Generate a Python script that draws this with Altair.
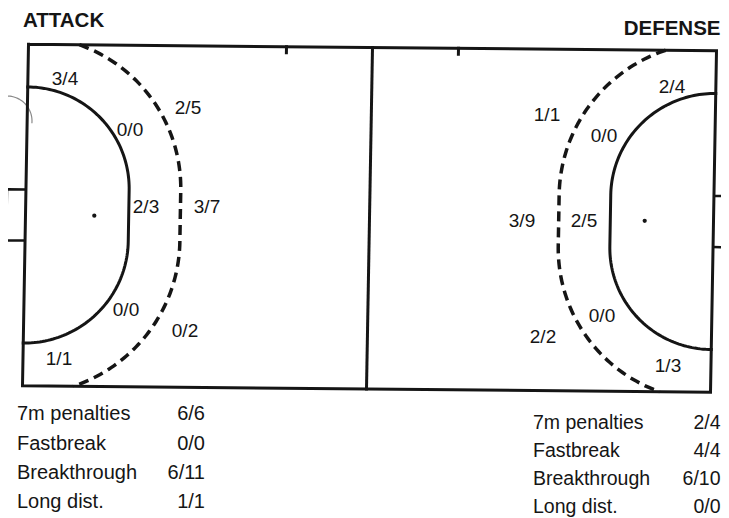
import altair as alt
import numpy as np
import pandas as pd

# ---------------- data (read from the scanned sheet) ----------------
panel_titles = ["ATTACK", "DEFENSE"]

# goals / attempts per shooting zone
attack_zone_labels = ["3/4", "0/0", "2/5", "2/3", "3/7", "0/0", "0/2", "1/1"]
defense_zone_labels = ["2/4", "0/0", "1/1", "2/5", "3/9", "0/0", "2/2", "1/3"]

stat_categories = ["7m penalties", "Fastbreak", "Breakthrough", "Long dist."]
attack_stats = ["6/6", "0/0", "6/11", "1/1"]
defense_stats = ["2/4", "4/4", "6/10", "0/0"]

# ---------------- positions on the sheet (px) ----------------
attack_zone_x = [65, 130, 188, 146, 207, 126, 185, 59]
attack_zone_y = [85, 136, 114, 213, 213, 316, 337, 365]
defense_zone_x = [672, 604, 547, 584, 522, 602, 543, 668]
defense_zone_y = [93, 142, 121, 227, 227, 322, 343, 372]

title_x = [23, 720.5]
title_y = [27, 35]

attack_stat_label_x, attack_stat_value_x = 17, 205
attack_stat_y = [419.5, 449.5, 479, 508]
defense_stat_label_x, defense_stat_value_x = 533, 720.5
defense_stat_y = [429, 457, 485, 513]


# court (metres, 40 x 20) -> scanned sheet (px), slight skew of the scan
def to_sheet(xm, ym):
    xm = np.asarray(xm, dtype=float)
    ym = np.asarray(ym, dtype=float)
    return 28.5 + 17.2 * xm - 0.3 * ym, 44.25 + 0.1625 * xm + 17.075 * ym


rows = []


def add_path(name, kind, xs, ys):
    sx, sy = to_sheet(xs, ys)
    for i, (a, b) in enumerate(zip(sx, sy)):
        rows.append({"x": a, "y": b, "path": name, "kind": kind, "i": i})


def goal_area(r, mirror):
    a0 = -np.degrees(np.arcsin(min(1.0, 8.5 / r)))
    t1 = np.radians(np.linspace(a0, 0, 60))
    t2 = np.radians(np.linspace(0, -a0, 60))
    xs = np.concatenate([r * np.cos(t1), [r, r], r * np.cos(t2)])
    ys = np.concatenate([8.5 + r * np.sin(t1), [8.5, 11.5], 11.5 + r * np.sin(t2)])
    if mirror:
        xs = 40 - xs
    return xs, ys


add_path("outline", "solid", [0, 40, 40, 0, 0], [0, 0, 20, 20, 0])
add_path("center", "solid", [20, 20], [0, 20])
add_path("sub_l", "solid", [15, 15], [0, 0.35])
add_path("sub_r", "solid", [25, 25], [0, 0.35])
for side, mirror in (("l", False), ("r", True)):
    xs, ys = goal_area(6, mirror)
    add_path("six_" + side, "solid", xs, ys)
    xs, ys = goal_area(9, mirror)
    add_path("nine_" + side, "dashed", xs, ys)
add_path("goal_l", "goal", [0, -1.1, -1.1, 0], [8.5, 8.5, 11.5, 11.5])
add_path("goal_r", "goal", [40, 41.2, 41.2, 40], [8.5, 8.5, 11.5, 11.5])

lines = pd.DataFrame(rows)

gx, gy = to_sheet([4, 36], [10, 10])
marks = pd.DataFrame({"x": gx, "y": gy})

# scan artefact (punched hole edge)
ang = np.radians(np.linspace(-175, 5, 50))
hole = pd.DataFrame({"x": 7 + 25 * np.cos(ang), "y": 121 + 25 * np.sin(ang), "i": range(50)})

zones = pd.DataFrame({
    "label": attack_zone_labels + defense_zone_labels,
    "x": attack_zone_x + defense_zone_x,
    "y": attack_zone_y + defense_zone_y,
})
titles = pd.DataFrame({"label": panel_titles, "x": title_x, "y": title_y})
stat_labels = pd.DataFrame({
    "label": stat_categories * 2,
    "x": [attack_stat_label_x] * 4 + [defense_stat_label_x] * 4,
    "y": attack_stat_y + defense_stat_y,
    "side": ["a"] * 4 + ["d"] * 4,
})
stat_values = pd.DataFrame({
    "label": attack_stats + defense_stats,
    "x": [attack_stat_value_x] * 4 + [defense_stat_value_x] * 4,
    "y": attack_stat_y + defense_stat_y,
    "side": ["a"] * 4 + ["d"] * 4,
})

W, H = 713, 510
xs_ = alt.Scale(domain=[8, 8 + W], nice=False, zero=False)
ys_ = alt.Scale(domain=[8, 8 + H], nice=False, zero=False, reverse=True)
X = alt.X("x:Q", scale=xs_, axis=None)
Y = alt.Y("y:Q", scale=ys_, axis=None)
INK = "#151515"
FONT = "Liberation Sans"

solid = alt.Chart(lines[lines.kind == "solid"]).mark_line(
    color=INK, strokeWidth=3, strokeJoin="miter", strokeCap="square"
).encode(X, Y, detail="path:N", order="i:Q")
dashed = alt.Chart(lines[lines.kind == "dashed"]).mark_line(
    color=INK, strokeWidth=3.5, strokeDash=[10, 6], strokeCap="butt"
).encode(X, Y, detail="path:N", order="i:Q")
goals = alt.Chart(lines[lines.kind == "goal"]).mark_line(
    color=INK, strokeWidth=2.5
).encode(X, Y, detail="path:N", order="i:Q")
dots = alt.Chart(marks).mark_circle(color=INK, size=18, opacity=1).encode(X, Y)
hole_arc = alt.Chart(hole).mark_line(color="#8a8a8a", strokeWidth=1.2).encode(X, Y, order="i:Q")

zone_text = alt.Chart(zones).mark_text(
    font=FONT, fontSize=19, color=INK, align="center", baseline="alphabetic"
).encode(X, Y, text="label:N")
title_l = alt.Chart(titles.iloc[[0]]).mark_text(
    font=FONT, fontSize=20.5, fontWeight="bold", color=INK, align="left", baseline="alphabetic"
).encode(X, Y, text="label:N")
title_r = alt.Chart(titles.iloc[[1]]).mark_text(
    font=FONT, fontSize=20.5, fontWeight="bold", color=INK, align="right", baseline="alphabetic"
).encode(X, Y, text="label:N")
stat_l_a = alt.Chart(stat_labels[stat_labels.side == "a"]).mark_text(
    font=FONT, fontSize=20, color=INK, align="left", baseline="alphabetic"
).encode(X, Y, text="label:N")
stat_v_a = alt.Chart(stat_values[stat_values.side == "a"]).mark_text(
    font=FONT, fontSize=20, color=INK, align="right", baseline="alphabetic"
).encode(X, Y, text="label:N")
stat_l_d = alt.Chart(stat_labels[stat_labels.side == "d"]).mark_text(
    font=FONT, fontSize=19.5, color=INK, align="left", baseline="alphabetic"
).encode(X, Y, text="label:N")
stat_v_d = alt.Chart(stat_values[stat_values.side == "d"]).mark_text(
    font=FONT, fontSize=19.5, color=INK, align="right", baseline="alphabetic"
).encode(X, Y, text="label:N")

chart = alt.layer(
    hole_arc, goals, solid, dashed, dots, zone_text, title_l, title_r,
    stat_l_a, stat_v_a, stat_l_d, stat_v_d
).properties(
    width=W, height=H, padding=0, autosize=alt.AutoSizeParams(type="none")
).configure_view(stroke=None)

chart.save("out.html", embed_options={"renderer": "svg", "actions": False})
